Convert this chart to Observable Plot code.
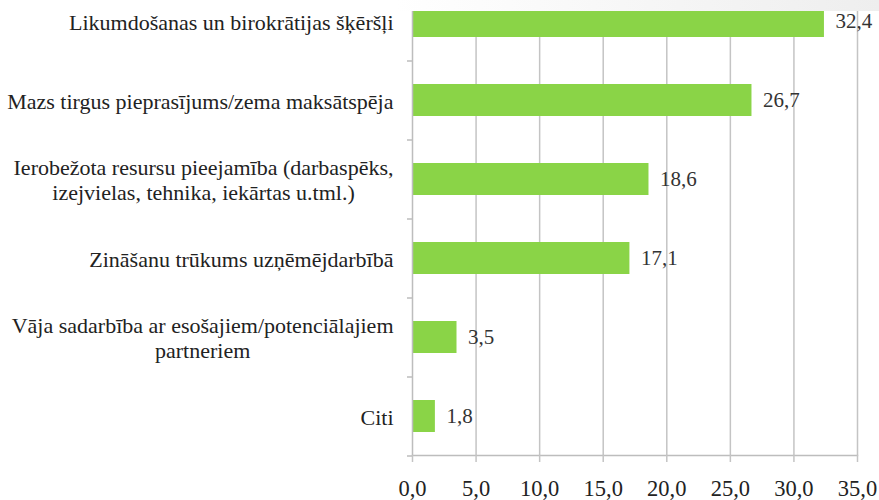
<!DOCTYPE html>
<html>
<head>
<meta charset="utf-8">
<script src="https://cdn.jsdelivr.net/npm/d3@7"></script>
<script src="https://cdn.jsdelivr.net/npm/@observablehq/plot@0.6"></script>
<style>
  html, body { margin: 0; padding: 0; background: white; }
  #chart { width: 879px; height: 500px; overflow: hidden;
           background: linear-gradient(to right, #ffffff 0%, #ffffff 45%, #eeeeee 100%) top left / 100% 11px no-repeat, #ffffff; }
  #chart svg text, #chart svg tspan { font-family: "Liberation Serif", serif !important; }
</style>
</head>
<body>
<div id="chart"></div>
<script>
const categories = [
  "Likumdošanas un birokrātijas šķēršļi",
  "Mazs tirgus pieprasījums/zema maksātspēja",
  "Ierobežota resursu pieejamība (darbaspēks,\nizejvielas, tehnika, iekārtas u.tml.)",
  "Zināšanu trūkums uzņēmējdarbībā",
  "Vāja sadarbība ar esošajiem/potenciālajiem\npartneriem",
  "Citi"
];
const values = [32.4, 26.7, 18.6, 17.1, 3.5, 1.8];
const xTicks = [0, 5, 10, 15, 20, 25, 30, 35];

const data = categories.map((c, i) => ({category: c, value: values[i]}));
const fmt = d => d.toFixed(1).replace(".", ",");

const yRange = [-19, 455];
const step = (yRange[1] - yRange[0]) / categories.length;
const serif = '"Liberation Serif", serif';

const svg = Plot.plot({
  width: 879,
  height: 500,
  marginLeft: 412,
  marginRight: 22,
  marginTop: 11,
  marginBottom: 45,
  style: {fontSize: "22px", fontFamily: serif, background: "transparent", color: "#222"},
  x: {domain: [0, 35], axis: null},
  y: {domain: categories, range: yRange, paddingInner: 0.6, paddingOuter: 0.3, axis: null},
  marks: [
    Plot.gridX(xTicks.slice(1), {stroke: "#c4c4c4", strokeOpacity: 1, strokeWidth: 1.5}),
    Plot.barX(data, {y: "category", x: "value", fill: "#8AD447", clip: true}),
    Plot.ruleX([0], {stroke: "#bdbdbd", strokeWidth: 1.5}),
    Plot.axisY(categories, {tickSize: 5, dy: step / 2, tickFormat: () => "", label: null, stroke: "#bdbdbd", strokeWidth: 1.5}),
    Plot.frame({anchor: "bottom", stroke: "#bdbdbd", strokeWidth: 1.5}),
    Plot.axisX(xTicks, {tickSize: 7, tickPadding: 18, label: null, stroke: "#c4c4c4", strokeWidth: 1.5, fill: "#222", tickFormat: fmt, fontSize: 22.5, fontFamily: "Liberation Serif"}),
    Plot.text(data, {y: "category", x: "value", text: d => fmt(d.value), dx: 11, textAnchor: "start", fill: "#333", fontSize: 21, fontFamily: "Liberation Serif"}),
    Plot.text(data, {y: "category", x: 0, text: "category", dx: -19, textAnchor: "end", lineHeight: 1.14, fill: "#222", fontSize: 22, fontFamily: "Liberation Serif"})
  ]
});

document.getElementById("chart").appendChild(svg);

function applySerif() {
  svg.querySelectorAll("text, tspan").forEach(t => {
    t.style.setProperty("font-family", '"Liberation Serif"', "important");
    t.setAttribute("font-family", "Liberation Serif");
  });
}
applySerif();

// center multi-line category labels on their widest line (right edge kept)
function centerLabels() {
  const groups = svg.querySelectorAll('g[aria-label="text"]');
  const labelGroup = groups[groups.length - 1];
  labelGroup.querySelectorAll("text").forEach(t => {
    const spans = t.querySelectorAll("tspan");
    if (spans.length > 1) {
      if (!t.dataset.x0) {
        t.dataset.x0 = "1";
        spans.forEach(s => s.dataset.x0 = s.getAttribute("x") || "0");
      }
      const W = Math.max(...Array.from(spans, s => s.getComputedTextLength()));
      t.setAttribute("text-anchor", "middle");
      spans.forEach(s => s.setAttribute("x", parseFloat(s.dataset.x0) - W / 2));
    }
  });
}
centerLabels();
if (document.fonts && document.fonts.ready) {
  document.fonts.ready.then(() => { applySerif(); centerLabels(); });
}
</script>
</body>
</html>
